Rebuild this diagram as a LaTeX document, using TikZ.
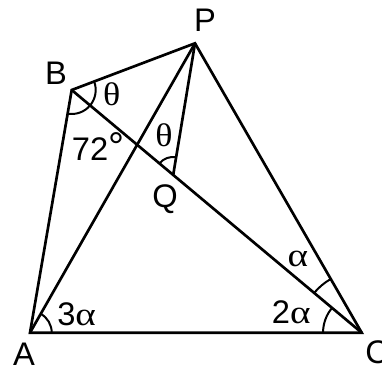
\documentclass[tikz,border=0pt]{standalone}
\usepackage{fontspec}
\setmainfont{Liberation Sans}
\newfontfamily\greekfont{Liberation Serif}
\usetikzlibrary{angles,calc}

\begin{document}
\begin{tikzpicture}[
    x=0.75pt, y=0.75pt,
    side/.style={line width=2pt},
    anglearc/.style={draw, line width=1.5pt},
    vlabel/.style={inner sep=0pt, anchor=base, font=\fontsize{24.5}{28}\selectfont},
    glabel/.style={vlabel, font=\fontsize{24.5}{28}\selectfont\greekfont}
  ]
    \useasboundingbox (0,0) rectangle (382,372);

    \coordinate (A) at (30,39.3);
    \coordinate (C) at (361.7,39.3);
    \coordinate (P) at (195,328.7);
    \coordinate (B) at (71.7,282);
    \coordinate (Q) at ($(B)!0.35!(C)$);

    \draw[side] (A) -- (B) -- (P) -- (C) -- cycle;
    \draw[side] (A) -- (P);
    \draw[side] (B) -- (C);
    \draw[side] (P) -- (Q);

    \pic[anglearc, angle radius=16.3pt] {angle=C--A--P};
    \pic[anglearc, angle radius=29pt] {angle=B--C--A};
    \pic[anglearc, angle radius=46.5pt] {angle=P--C--B};
    \pic[anglearc, angle radius=18pt] {angle=A--B--C};
    \pic[anglearc, angle radius=18pt] {angle=C--B--P};
    \pic[anglearc, angle radius=13.5pt] {angle=P--Q--B};

    \node[vlabel] (lP) at (205,340.3) {P};
    \node[vlabel] (lB) at (56,287) {B};
    \node[vlabel] (lA) at (24,7) {A};
    \node[vlabel, anchor=base west] (lC) at (365,9) {C};
    \node[vlabel] (lQ) at (165,165) {Q};

    \node[glabel] (tB) at (111.7,267) {\scalebox{1.1}[1]{θ}};
    \node[glabel] (tQ) at (164,225.3) {\scalebox{1.1}[1]{θ}};
    \node[vlabel, anchor=base west] (n72) at (71.7,211) {72{\fontsize{30}{30}\selectfont °}};
    \node[glabel] (aC) at (298,105.3) {\scalebox{1.2}[1]{α}};
    \node[vlabel, anchor=base west] (a3) at (57,47) {3{\greekfont\scalebox{1.2}[1]{α}}};
    \node[vlabel, anchor=base west] (a2) at (271.7,48.7) {2{\greekfont\scalebox{1.2}[1]{α}}};
  \end{tikzpicture}
\end{document}
